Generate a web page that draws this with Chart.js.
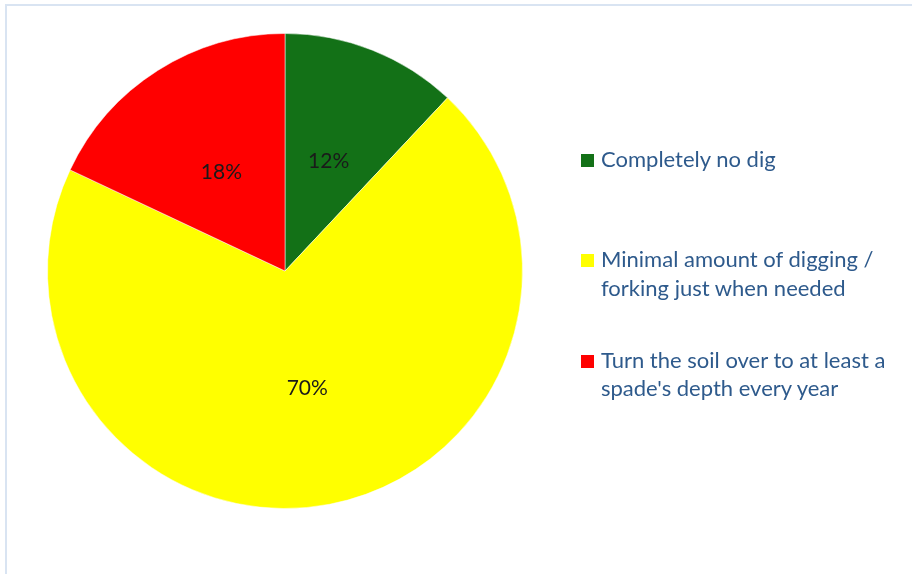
<!DOCTYPE html>
<html>
<head>
<meta charset="utf-8">
<script src="https://cdn.jsdelivr.net/npm/chart.js@4/dist/chart.umd.min.js"></script>
<style>
  html, body { margin: 0; padding: 0; background: #fff; }
  #wrap { position: relative; width: 912px; height: 574px; overflow: hidden; }
  #frame {
    position: absolute; left: 5px; top: 4px; width: 1000px; height: 700px;
    border-top: 2px solid #D9E4F2; border-left: 2px solid #D9E4F2;
    box-sizing: border-box; pointer-events: none;
  }
  #chart { position: absolute; left: 0; top: 0; }
  #legend { position: absolute; left: 581px; top: 145px; font-family: Lato, "Open Sans", sans-serif; }
  .item { position: absolute; left: 0; white-space: nowrap; }
  .swatch { position: absolute; left: 0; top: 9px; width: 13px; height: 13px; }
  .text { position: absolute; left: 20px; top: 0; font-size: 22px; line-height: 28.4px; color: #2E5A8C; }
</style>
</head>
<body>
<div id="wrap">
  <canvas id="chart" width="912" height="574"></canvas>
  <div id="frame"></div>
  <div id="legend"></div>
</div>
<script>
// Survey answers: how much digging is done on the plot
const categories = [
  'Completely no dig',
  'Minimal amount of digging / forking just when needed',
  "Turn the soil over to at least a spade's depth every year"
];
const legendLines = [
  ['Completely no dig'],
  ['Minimal amount of digging /', 'forking just when needed'],
  ['Turn the soil over to at least a', "spade's depth every year"]
];
const shares = [12, 70, 18];
const sliceColors = ['#137117', '#FFFF00', '#FF0000'];

// Percent labels drawn at the middle of each slice
const sliceLabels = {
  id: 'sliceLabels',
  afterDatasetsDraw(chart) {
    const ctx = chart.ctx;
    const meta = chart.getDatasetMeta(0);
    ctx.save();
    ctx.font = '21px Lato, "Open Sans", sans-serif';
    ctx.fillStyle = '#1a1a1a';
    ctx.textAlign = 'center';
    ctx.textBaseline = 'middle';
    meta.data.forEach((arc, i) => {
      const p = arc.tooltipPosition();
      ctx.fillText(shares[i] + '%', p.x, p.y + 1);
    });
    ctx.restore();
  }
};

new Chart(document.getElementById('chart'), {
  type: 'pie',
  data: {
    labels: categories,
    datasets: [{
      data: shares,
      backgroundColor: sliceColors,
      borderColor: 'rgba(255,255,255,0.5)',
      borderWidth: 1
    }]
  },
  options: {
    responsive: false,
    animation: false,
    layout: { padding: { left: 47, right: 389, top: 33, bottom: 65 } },
    plugins: { legend: { display: false }, tooltip: { enabled: false } }
  },
  plugins: [sliceLabels]
});

// Legend on the right, one entry every 100px
const legend = document.getElementById('legend');
categories.forEach((name, i) => {
  const item = document.createElement('div');
  item.className = 'item';
  item.style.top = (i * 100.3) + 'px';
  const sw = document.createElement('div');
  sw.className = 'swatch';
  sw.style.background = sliceColors[i];
  const tx = document.createElement('div');
  tx.className = 'text';
  tx.innerHTML = legendLines[i].map(l => l.replace(/&/g, '&amp;')).join('<br>');
  item.appendChild(sw);
  item.appendChild(tx);
  legend.appendChild(item);
});
</script>
</body>
</html>
